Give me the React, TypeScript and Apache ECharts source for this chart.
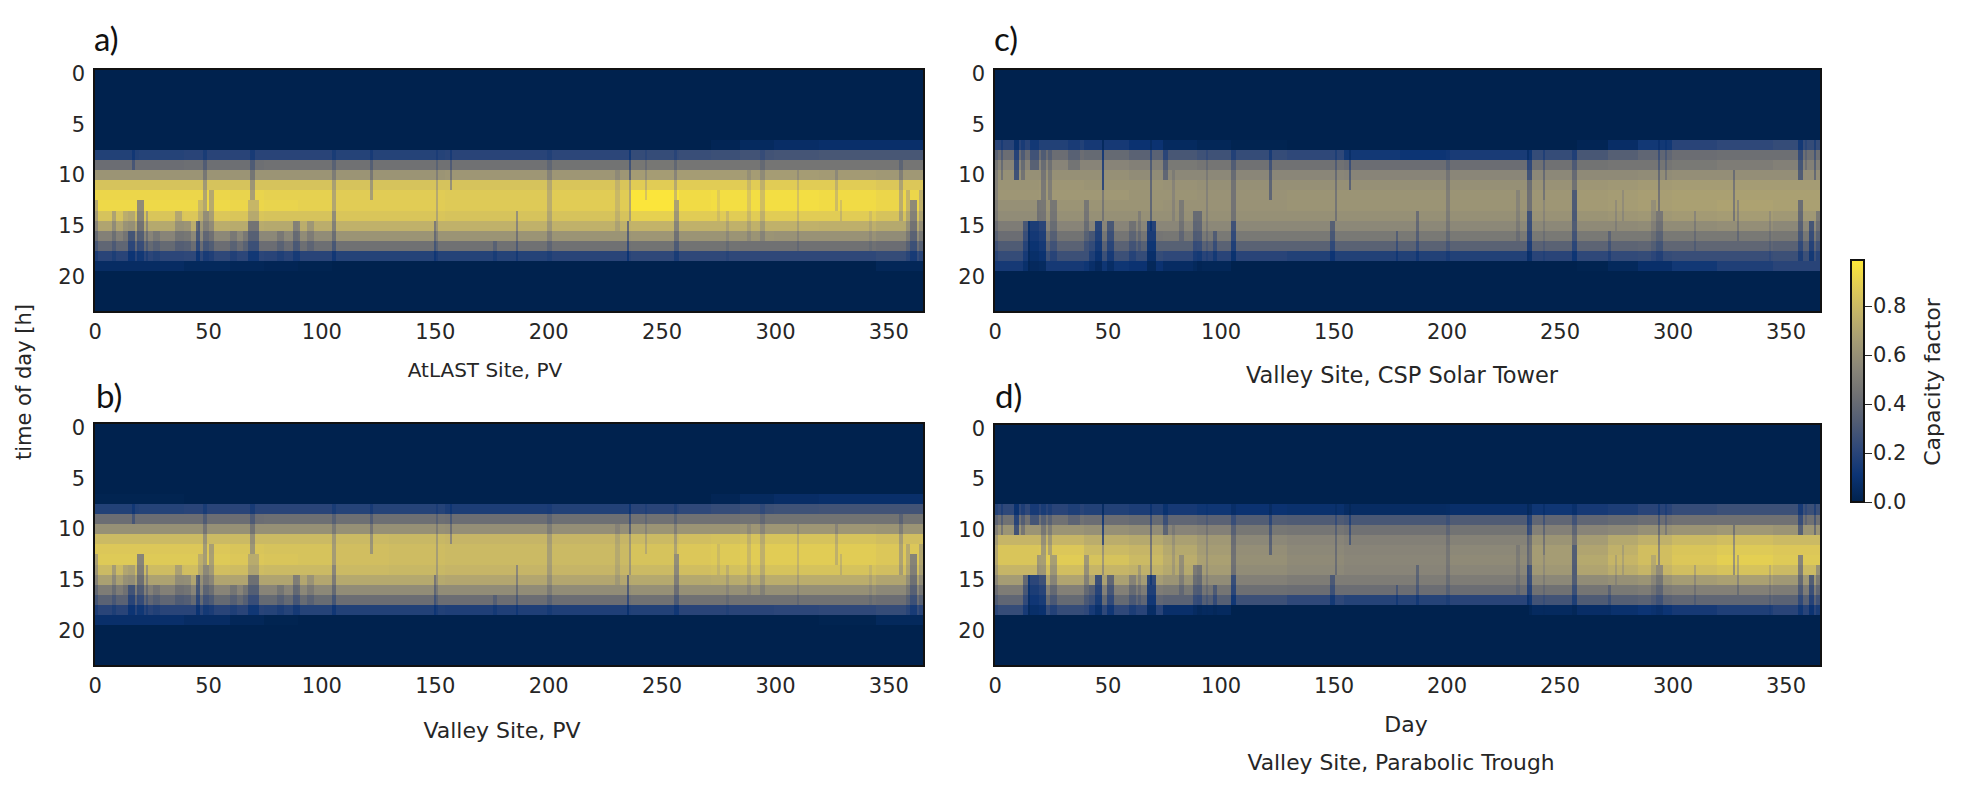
// Capacity factor heatmaps, four panels plus a shared colorbar
import React, { useRef, useEffect } from 'react';
import * as echarts from 'echarts';

const days = Array.from({ length: 366 }, (_, i) => String(i));
const hours = Array.from({ length: 24 }, (_, i) => String(i));

// first day of each seasonal block in the profile tables below
const seasonStarts = [0, 20, 40, 60, 75, 90, 105, 130, 155, 180, 200, 237, 258, 272, 285, 300, 320, 345];

const atlastPv = [
  [0, .18, .42, .62, .84, .92, .93, .84, .70, .52, .38, .20, .06],
  [0, .19, .42, .62, .84, .92, .93, .85, .72, .54, .40, .21, .06],
  [0, .20, .43, .62, .84, .92, .93, .86, .74, .56, .42, .22, .04],
  [0, .20, .43, .62, .84, .91, .92, .85, .73, .56, .42, .21, .03],
  [0, .20, .44, .62, .84, .90, .91, .84, .72, .56, .42, .20, .02],
  [0, .20, .44, .62, .84, .90, .90, .84, .74, .58, .43, .20, .01],
  [0, .19, .44, .62, .84, .88, .88, .85, .76, .62, .44, .19, 0],
  [0, .19, .44, .62, .84, .88, .88, .85, .76, .62, .44, .19, 0],
  [0, .20, .44, .63, .84, .87, .87, .84, .76, .62, .44, .19, 0],
  [0, .20, .44, .63, .84, .87, .87, .84, .76, .62, .44, .19, 0],
  [0, .21, .45, .63, .85, .88, .88, .84, .76, .62, .44, .20, 0],
  [0, .24, .47, .66, .88, .98, .98, .90, .77, .63, .45, .22, 0],
  [0, .25, .46, .66, .88, .94, .94, .88, .76, .62, .45, .22, 0],
  [.02, .26, .46, .66, .88, .95, .95, .88, .76, .62, .45, .22, 0],
  [.05, .28, .46, .66, .88, .95, .95, .88, .76, .62, .44, .22, 0],
  [.07, .29, .46, .66, .88, .95, .95, .88, .76, .61, .44, .22, 0],
  [.08, .30, .46, .65, .88, .94, .94, .88, .75, .61, .44, .22, 0],
  [.08, .30, .46, .64, .86, .92, .92, .84, .72, .58, .42, .24, .03],
];
const valleyPv = [
  [.01, .18, .42, .60, .80, .86, .87, .80, .68, .50, .36, .20, .08],
  [.01, .19, .42, .60, .80, .86, .87, .81, .69, .52, .38, .20, .08],
  [0, .20, .42, .60, .80, .86, .87, .82, .70, .54, .40, .20, .06],
  [0, .20, .42, .60, .80, .85, .86, .81, .70, .54, .40, .20, .03],
  [0, .20, .43, .60, .80, .84, .85, .80, .70, .54, .40, .19, .01],
  [0, .20, .43, .60, .80, .84, .84, .80, .71, .56, .41, .19, 0],
  [0, .19, .43, .60, .80, .82, .82, .80, .72, .58, .42, .18, 0],
  [0, .19, .43, .60, .79, .81, .81, .79, .72, .58, .42, .18, 0],
  [0, .16, .42, .59, .78, .80, .80, .78, .71, .58, .42, .17, 0],
  [0, .16, .42, .59, .78, .80, .80, .78, .71, .58, .42, .17, 0],
  [0, .18, .43, .59, .78, .80, .80, .78, .71, .58, .42, .17, 0],
  [0, .20, .44, .62, .80, .84, .84, .80, .72, .60, .44, .18, 0],
  [0, .22, .44, .62, .82, .86, .86, .82, .72, .60, .44, .20, 0],
  [.02, .24, .44, .62, .83, .87, .87, .83, .73, .60, .44, .20, 0],
  [.05, .26, .45, .63, .84, .88, .88, .84, .74, .60, .44, .20, 0],
  [.07, .27, .45, .63, .84, .88, .88, .84, .74, .60, .44, .21, 0],
  [.08, .28, .45, .63, .84, .88, .88, .84, .74, .60, .44, .22, .01],
  [.08, .28, .45, .62, .82, .86, .86, .82, .70, .56, .42, .24, .04],
];
const valleyTower = [
  [.20, .42, .54, .60, .62, .63, .60, .58, .50, .42, .32, .24, .14],
  [.18, .42, .54, .60, .63, .64, .62, .60, .54, .45, .36, .26, .14],
  [.14, .40, .54, .60, .62, .64, .62, .60, .54, .46, .36, .26, .12],
  [.10, .36, .52, .58, .62, .62, .62, .60, .55, .46, .35, .24, .10],
  [.05, .30, .48, .56, .61, .62, .61, .60, .55, .47, .35, .22, .06],
  [.03, .27, .46, .56, .60, .61, .61, .60, .56, .48, .36, .20, .03],
  [.01, .24, .44, .55, .60, .61, .61, .60, .56, .48, .36, .20, 0],
  [0, .22, .44, .55, .60, .62, .62, .60, .56, .48, .36, .18, 0],
  [0, .13, .42, .54, .60, .62, .62, .60, .56, .48, .36, .18, 0],
  [0, .11, .42, .54, .60, .62, .62, .60, .56, .48, .36, .18, 0],
  [0, .15, .42, .55, .60, .62, .62, .60, .56, .48, .36, .18, 0],
  [0, .24, .44, .56, .61, .63, .63, .61, .56, .48, .36, .20, 0],
  [.02, .30, .45, .57, .63, .65, .65, .62, .57, .48, .37, .22, .01],
  [.07, .34, .46, .57, .64, .66, .66, .63, .57, .48, .37, .23, .04],
  [.13, .38, .46, .58, .65, .67, .67, .64, .58, .48, .38, .24, .08],
  [.20, .42, .48, .59, .66, .68, .68, .65, .58, .48, .38, .25, .13],
  [.22, .43, .50, .59, .66, .68, .69, .66, .59, .48, .38, .25, .17],
  [.24, .43, .52, .59, .66, .68, .68, .64, .56, .47, .36, .26, .20],
];
const valleyTrough = [
  [0, .22, .44, .62, .78, .85, .85, .78, .66, .50, .38, .24, 0],
  [0, .20, .44, .62, .78, .86, .88, .82, .70, .52, .40, .24, 0],
  [0, .18, .42, .60, .74, .80, .84, .78, .68, .52, .40, .22, 0],
  [0, .16, .40, .58, .72, .78, .80, .76, .66, .50, .38, .20, 0],
  [0, .14, .38, .54, .68, .72, .74, .72, .62, .48, .36, .08, 0],
  [0, .12, .36, .52, .64, .66, .68, .66, .58, .46, .34, .05, 0],
  [0, .10, .33, .47, .56, .59, .60, .58, .52, .43, .26, 0, 0],
  [0, .09, .32, .46, .54, .56, .57, .56, .50, .42, .22, 0, 0],
  [0, .06, .30, .44, .52, .54, .55, .54, .50, .42, .19, 0, 0],
  [0, .06, .30, .44, .52, .54, .55, .54, .50, .42, .19, 0, 0],
  [0, .08, .32, .45, .53, .56, .57, .55, .50, .42, .20, 0, 0],
  [0, .12, .38, .52, .62, .66, .66, .64, .56, .44, .28, .05, 0],
  [0, .14, .38, .54, .66, .70, .72, .70, .58, .46, .32, .07, 0],
  [0, .16, .40, .56, .72, .76, .78, .74, .60, .48, .34, .09, 0],
  [0, .20, .42, .60, .76, .82, .82, .78, .62, .50, .36, .11, 0],
  [0, .24, .44, .62, .80, .85, .86, .82, .66, .52, .38, .14, 0],
  [0, .26, .44, .64, .82, .87, .89, .84, .68, .52, .38, .17, 0],
  [0, .26, .44, .62, .80, .86, .87, .80, .64, .50, .36, .20, 0],
];

// cloudy spells: [first day, last day, first hour, last hour, share of the clear value kept]
const pvStreaks = [
  [0, 1, 13, 18, .78], [8, 9, 14, 18, .82], [13, 14, 14, 16, .88], [15, 17, 16, 18, .55], [15, 17, 14, 15, .85],
  [17, 17, 8, 9, .7], [19, 21, 13, 18, .62], [23, 23, 14, 18, .78], [26, 28, 16, 18, .88], [36, 38, 14, 17, .84],
  [39, 42, 15, 17, .84], [45, 46, 15, 18, .52], [46, 47, 13, 15, .86], [48, 49, 8, 13, .76], [48, 50, 14, 18, .68],
  [51, 52, 12, 18, .78], [60, 62, 16, 18, .85], [66, 67, 16, 17, .85], [68, 72, 15, 18, .62], [68, 72, 13, 14, .85],
  [69, 70, 8, 12, .74], [81, 83, 16, 18, .85], [88, 90, 15, 18, .72], [94, 96, 15, 17, .86], [105, 106, 8, 13, .8],
  [105, 106, 14, 18, .68], [122, 122, 8, 12, .76], [150, 150, 15, 18, .65], [151, 151, 8, 18, .82], [157, 157, 8, 11, .72],
  [176, 177, 17, 18, .8], [186, 186, 14, 18, .72], [200, 201, 8, 18, .84], [230, 231, 10, 15, .9], [235, 235, 15, 18, .55],
  [236, 236, 8, 10, .6], [236, 236, 11, 14, .8], [243, 243, 8, 12, .86], [256, 256, 8, 12, .82], [256, 257, 13, 18, .7],
  [275, 275, 12, 14, .92], [279, 279, 14, 18, .9], [288, 289, 10, 16, .9], [294, 295, 8, 16, .86], [310, 310, 10, 17, .88],
  [327, 327, 10, 13, .86], [329, 329, 13, 14, .88], [342, 342, 14, 17, .92], [355, 356, 9, 14, .8], [358, 359, 12, 18, .84],
  [360, 362, 13, 18, .62], [364, 365, 12, 18, .82],
];
const thermalStreaks = [
  [0, 1, 8, 18, .84], [3, 3, 7, 10, .75], [9, 10, 7, 10, .45], [12, 13, 7, 10, .75], [13, 15, 15, 19, .6],
  [16, 19, 7, 9, .65], [15, 19, 15, 19, .32], [19, 20, 13, 14, .75], [21, 22, 8, 14, .76], [20, 22, 15, 19, .38],
  [24, 25, 8, 12, .8], [25, 27, 13, 18, .76], [33, 37, 7, 9, .84], [40, 41, 13, 17, .76], [42, 44, 16, 19, .65],
  [45, 47, 15, 19, .38], [48, 48, 7, 11, .36], [48, 48, 12, 14, .76], [50, 52, 15, 19, .56], [60, 62, 15, 18, .8],
  [64, 64, 14, 17, .84], [69, 69, 7, 15, .62], [68, 71, 15, 19, .34], [75, 76, 8, 10, .68], [79, 79, 10, 14, .88],
  [82, 83, 13, 16, .8], [88, 91, 14, 19, .68], [94, 94, 8, 18, .86], [97, 98, 16, 18, .68], [105, 106, 8, 14, .74],
  [105, 106, 15, 18, .48], [122, 122, 8, 12, .62], [149, 150, 15, 18, .62], [151, 151, 8, 14, .74], [157, 157, 8, 11, .6],
  [178, 178, 16, 18, .7], [187, 187, 14, 18, .7], [200, 201, 8, 18, .82], [231, 232, 12, 16, .86], [236, 237, 8, 10, .5],
  [236, 237, 11, 13, .7], [236, 237, 14, 18, .45], [243, 243, 8, 12, .72], [243, 243, 13, 18, .88], [256, 257, 8, 11, .72],
  [256, 257, 12, 14, .5], [256, 257, 15, 18, .58], [272, 272, 16, 18, .75], [275, 275, 13, 15, .88], [278, 278, 12, 14, .88],
  [291, 292, 13, 18, .88], [293, 295, 14, 18, .74], [294, 294, 7, 13, .68], [297, 297, 7, 10, .8], [310, 310, 14, 17, .84],
  [327, 327, 10, 14, .7], [329, 329, 13, 16, .8], [343, 343, 14, 18, .88], [356, 357, 7, 10, .55], [356, 357, 13, 18, .62],
  [359, 359, 7, 9, .84], [361, 362, 15, 18, .52], [363, 363, 7, 10, .68], [364, 365, 14, 18, .76],
];

const cividis = ['#00224e', '#0c3474', '#2f4879', '#525d74', '#707173', '#8a8678', '#a59c74', '#c3b369', '#e1cc55', '#fee838'];
const colorMax = 0.99;
const colorTicks = [0, 0.2, 0.4, 0.6, 0.8];

const FONT = '"DejaVu Sans", sans-serif';
const TEXT = '#262626';

const panels = [
  { profiles: atlastPv, streaks: pvStreaks, left: 94, top: 69, width: 830, height: 243 },
  { profiles: valleyPv, streaks: pvStreaks, left: 94, top: 423, width: 830, height: 243 },
  { profiles: valleyTower, streaks: thermalStreaks, left: 994, top: 69, width: 827, height: 243 },
  { profiles: valleyTrough, streaks: thermalStreaks, left: 994, top: 424, width: 827, height: 242 },
];

const captions = [
  { text: 'AtLAST Site, PV', x: 485, y: 370, size: 20 },
  { text: 'Valley Site, PV', x: 502, y: 730, size: 22 },
  { text: 'Valley Site, CSP Solar Tower', x: 1402, y: 375, size: 22.5 },
  { text: 'Day', x: 1406, y: 724, size: 22 },
  { text: 'Valley Site, Parabolic Trough', x: 1401, y: 762, size: 21.8 },
];
const letters = [
  { text: 'a)', x: 94, y: 38 },
  { text: 'b)', x: 96, y: 395 },
  { text: 'c)', x: 994, y: 38 },
  { text: 'd)', x: 995, y: 395 },
];

function buildCells(profiles: number[][], streaks: number[][]) {
  const cells: number[][] = [];
  days.forEach((_, d) => {
    let block = 0;
    seasonStarts.forEach((start, i) => {
      if (d >= start) block = i;
    });
    hours.forEach((_, h) => {
      let v = h >= 7 && h <= 19 ? profiles[block][h - 7] : 0;
      streaks.forEach((s) => {
        if (d >= s[0] && d <= s[1] && h >= s[2] && h <= s[3]) v *= s[4];
      });
      cells.push([d, h, v]);
    });
  });
  return cells;
}

export default function App() {
  const chartRef = useRef<HTMLDivElement>(null);

  useEffect(() => {
    if (!chartRef.current) return;
    document.body.style.margin = '0';
    const chart = echarts.init(chartRef.current, undefined, { renderer: 'svg' });

    const tickStyle = { lineStyle: { color: TEXT, width: 1.3 }, length: 8 };
    const labelStyle = { color: TEXT, fontFamily: FONT, fontSize: 21, margin: 9 };

    const option: any = {
      animation: false,
      backgroundColor: '#fff',
      grid: [
        ...panels.map((p) => ({ left: p.left, top: p.top, width: p.width, height: p.height })),
        { left: 1851, top: 260, width: 13, height: 242 },
      ],
      xAxis: [
        ...panels.map((_, i) => ({
          type: 'category',
          gridIndex: i,
          data: days,
          axisLine: { show: false },
          axisTick: { ...tickStyle, alignWithLabel: true, interval: (n: number) => n % 50 === 0 },
          axisLabel: { ...labelStyle, interval: (n: number) => n % 50 === 0 },
        })),
        { type: 'category', gridIndex: 4, data: [''], show: false },
      ],
      yAxis: [
        ...panels.map((_, i) => ({
          type: 'category',
          gridIndex: i,
          inverse: true,
          data: hours,
          axisLine: { show: false },
          axisTick: { ...tickStyle, alignWithLabel: true, interval: (n: number) => n % 5 === 0 },
          axisLabel: { ...labelStyle, interval: (n: number) => n % 5 === 0 },
        })),
        {
          type: 'value',
          gridIndex: 4,
          position: 'right',
          min: 0,
          max: colorMax,
          splitLine: { show: false },
          axisLine: { show: false },
          axisTick: { ...tickStyle, show: true, customValues: colorTicks },
          axisLabel: {
            ...labelStyle,
            customValues: colorTicks,
            formatter: (v: number) => v.toFixed(1),
          },
        },
      ],
      visualMap: {
        show: false,
        min: 0,
        max: colorMax,
        seriesIndex: [0, 1, 2, 3],
        inRange: { color: cividis },
      },
      series: [
        ...panels.map((p, i) => ({
          type: 'heatmap',
          xAxisIndex: i,
          yAxisIndex: i,
          data: buildCells(p.profiles, p.streaks),
          progressive: 0,
          silent: true,
          emphasis: { disabled: true },
        })),
        {
          type: 'bar',
          xAxisIndex: 4,
          yAxisIndex: 4,
          data: [colorMax],
          barWidth: '100%',
          silent: true,
          itemStyle: {
            color: new echarts.graphic.LinearGradient(
              0, 1, 0, 0,
              cividis.map((c, i) => ({ offset: i / (cividis.length - 1), color: c })),
            ),
          },
        },
      ],
      graphic: [
        ...panels.map((p) => ({
          type: 'rect',
          z: 100,
          silent: true,
          shape: { x: p.left, y: p.top, width: p.width, height: p.height },
          style: { fill: 'none', stroke: '#111', lineWidth: 1.3 },
        })),
        {
          type: 'rect',
          z: 100,
          silent: true,
          shape: { x: 1851, y: 260, width: 13, height: 242 },
          style: { fill: 'none', stroke: '#111', lineWidth: 1.3 },
        },
        ...letters.map((t) => ({
          type: 'text',
          x: t.x,
          y: t.y,
          style: {
            text: t.text,
            fill: '#111',
            font: '33px Lato, "Noto Sans", sans-serif',
            textAlign: 'left',
            textVerticalAlign: 'middle',
          },
        })),
        ...captions.map((t) => ({
          type: 'text',
          x: t.x,
          y: t.y,
          style: {
            text: t.text,
            fill: TEXT,
            font: `${t.size}px ${FONT}`,
            textAlign: 'center',
            textVerticalAlign: 'middle',
          },
        })),
        {
          type: 'text',
          x: 24,
          y: 382,
          rotation: Math.PI / 2,
          style: { text: 'time of day [h]', fill: TEXT, font: `21px ${FONT}`, textAlign: 'center', textVerticalAlign: 'middle' },
        },
        {
          type: 'text',
          x: 1932,
          y: 382,
          rotation: Math.PI / 2,
          style: { text: 'Capacity factor', fill: TEXT, font: `22px ${FONT}`, textAlign: 'center', textVerticalAlign: 'middle' },
        },
      ],
    };

    chart.setOption(option);

    return () => {
      chart.dispose();
    };
  }, []);

  return (
    <div
      ref={chartRef}
      style={{ position: 'absolute', left: 0, top: 0, width: 1961, height: 791, shapeRendering: 'crispEdges' }}
    />
  );
}
